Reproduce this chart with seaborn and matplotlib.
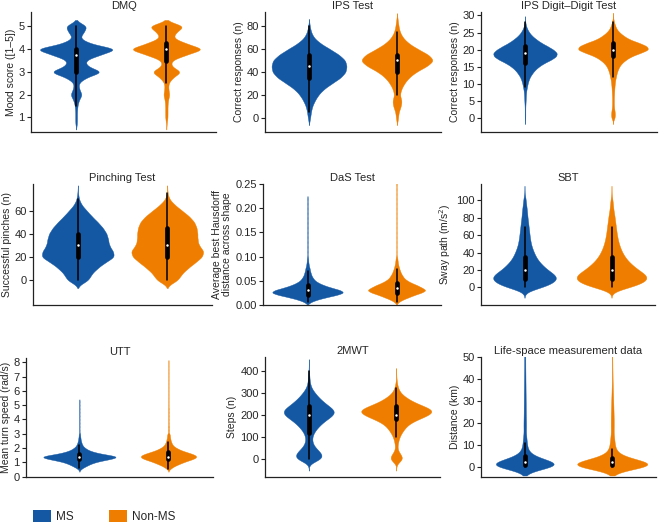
import numpy as np
import pandas as pd
import seaborn as sns
import matplotlib.pyplot as plt
from matplotlib.patches import Patch
from matplotlib.collections import PolyCollection

GROUPS = ['MS', 'Non-MS']
COLORS = {'MS': '#1457a3', 'Non-MS': '#ee7d00'}

DMQ_VALUES = [0.75, 1.0, 1.25, 1.5, 1.75, 2.0, 2.25, 2.5, 2.75, 3.0, 3.25, 3.5, 3.75, 4.0, 4.25, 4.5, 4.75, 5.0]
DMQ_MS = [2, 2, 2, 3, 6, 14, 7, 5, 22, 64, 25, 20, 55, 100, 30, 8, 18, 26]
DMQ_NONMS = [1, 3, 3, 3, 4, 8, 5, 5, 16, 40, 12, 12, 50, 100, 50, 16, 25, 48]

IPS_VALUES = [0, 5, 10, 15, 20, 25, 30, 35, 40, 45, 50, 55, 60, 65, 70, 75, 80, 85]
IPS_MS = [3, 5, 8, 15, 24, 38, 60, 84, 98, 100, 97, 80, 55, 29, 12, 5, 2, 0]
IPS_NONMS = [3, 4, 10, 13, 7, 11, 19, 31, 50, 80, 100, 85, 55, 30, 15, 7, 4, 2]

DIGIT_VALUES = [0, 1, 2, 3, 4, 5, 6, 7, 8, 9, 10, 11, 12, 13, 14, 15, 16, 17, 18, 19,
                20, 21, 22, 23, 24, 25, 26, 27, 28, 29]
DIGIT_MS = [2, 2, 2, 2, 3, 4, 5, 6, 8, 12, 16, 22, 30, 44, 60, 84, 116, 160, 194, 200,
            176, 140, 100, 70, 44, 26, 14, 6, 2, 0]
DIGIT_NONMS = [9, 11, 9, 6, 5, 5, 5, 6, 7, 8, 10, 12, 16, 20, 26, 34, 48, 70, 100, 150,
               200, 190, 144, 90, 60, 36, 20, 12, 6, 2]

PINCH_VALUES = [0, 5, 10, 15, 20, 25, 30, 35, 40, 45, 50, 55, 60, 65, 70, 75]
PINCH_MS = [30, 36, 52, 72, 100, 95, 84, 82, 78, 68, 54, 38, 24, 10, 3, 1]
PINCH_NONMS = [30, 38, 55, 75, 95, 100, 85, 82, 82, 80, 74, 60, 40, 20, 5, 1]

DAS_VALUES = [0.005, 0.01, 0.015, 0.02, 0.025, 0.03, 0.035, 0.04, 0.045, 0.05,
              0.055, 0.06, 0.065, 0.07, 0.075, 0.08, 0.085, 0.09, 0.095, 0.1,
              0.11, 0.12, 0.13, 0.14, 0.15, 0.16, 0.17, 0.18, 0.19, 0.2,
              0.21, 0.22, 0.23, 0.24, 0.25]
DAS_MS = [8, 25, 50, 80, 100, 90, 65, 45, 30, 20, 15, 11, 9, 7, 6, 4, 3, 2, 2, 1,
          1, 1, 1, 1, 1, 1, 1, 1, 1, 1, 1, 1, 0, 0, 0]
DAS_NONMS = [6, 20, 40, 60, 85, 100, 85, 70, 50, 35, 25, 20, 15, 12, 9, 7, 5, 4, 3, 2,
             1, 1, 1, 1, 1, 1, 1, 1, 1, 1, 1, 1, 1, 1, 1]

SBT_VALUES = [0, 5, 10, 15, 20, 25, 30, 35, 40, 45, 50, 55, 60, 65, 70, 75, 80, 85, 90, 95, 100, 105]
SBT_MS = [55, 85, 100, 90, 68, 55, 42, 34, 28, 23, 19, 17, 15, 14, 12, 11, 9, 8, 7, 5, 4, 2]
SBT_NONMS = [50, 85, 100, 92, 72, 58, 45, 36, 29, 24, 20, 17, 15, 13, 12, 10, 9, 7, 5, 4, 3, 1]

UTT_VALUES = [0.5, 0.6, 0.7, 0.8, 0.9, 1.0, 1.1, 1.2, 1.3, 1.4, 1.5, 1.6, 1.7, 1.8, 1.9,
              2.0, 2.1, 2.2, 2.3, 2.4, 2.5, 2.6, 2.7, 2.8, 2.9, 3.0,
              3.25, 3.5, 3.75, 4.0, 4.25, 4.5, 4.75, 5.0, 5.25, 5.5,
              5.75, 6.0, 6.25, 6.5, 6.75, 7.0, 7.25, 7.5, 7.75, 8.0]
UTT_MS = [3, 8, 15, 22, 30, 40, 55, 75, 92, 100, 80, 56, 40, 28, 20, 15, 10, 8, 6, 5,
          4, 3, 3, 2, 2, 2, 1, 1, 1, 1, 1, 1, 1, 1, 1, 0,
          0, 0, 0, 0, 0, 0, 0, 0, 0, 0]
UTT_NONMS = [4, 10, 18, 28, 40, 52, 66, 82, 95, 100, 95, 82, 66, 50, 38, 28, 20, 15, 12, 10,
             8, 7, 6, 5, 5, 4, 3, 3, 2, 2, 2, 2, 2, 1, 1, 1,
             1, 1, 1, 1, 1, 1, 1, 1, 1, 1]

MWT_VALUES = [0, 20, 40, 60, 80, 100, 120, 140, 160, 180, 200, 220, 240, 260, 280, 300,
              320, 340, 360, 380, 400, 420, 440]
MWT_MS = [48, 50, 34, 18, 12, 12, 18, 30, 45, 65, 90, 95, 72, 52, 35, 22, 10, 5, 3, 2, 1, 0, 0]
MWT_NONMS = [20, 12, 3, 3, 5, 8, 14, 22, 32, 55, 85, 100, 70, 42, 24, 10, 5, 2, 1, 0, 0, 0, 0]

LIFE_VALUES = [0, 1, 2, 3, 4, 5, 6, 7, 8, 9, 10, 11, 12, 13, 14, 15,
               17.5, 20, 22.5, 25, 27.5, 30, 32.5, 35, 37.5, 40, 42.5, 45, 47.5, 50, 52.5, 55]
LIFE_MS = [190, 170, 120, 70, 42, 26, 17, 12, 10, 9, 8, 7, 7, 6, 6, 5,
           12, 11, 10, 9, 9, 8, 8, 7, 7, 6, 6, 5, 5, 5, 4, 4]
LIFE_NONMS = [160, 150, 100, 55, 32, 20, 13, 10, 8, 7, 6, 6, 5, 5, 5, 4,
              10, 9, 9, 8, 7, 6, 5, 4, 3, 2, 2, 1, 1, 0, 0, 0]

TITLES = ['DMQ', 'IPS Test', 'IPS Digit\u2013Digit Test',
          'Pinching Test', 'DaS Test', 'SBT',
          'UTT', '2MWT', 'Life-space measurement data']
YLABELS = ['Mood score ([1\u20135])', 'Correct responses (n)', 'Correct responses (n)',
           'Successful pinches (n)', 'Average best Hausdorff\ndistance across shape', 'Sway path (m/s$^2$)',
           'Mean turn speed (rad/s)', 'Steps (n)', 'Distance (km)']
DATA = [
    (DMQ_VALUES, DMQ_MS, DMQ_NONMS),
    (IPS_VALUES, IPS_MS, IPS_NONMS),
    (DIGIT_VALUES, DIGIT_MS, DIGIT_NONMS),
    (PINCH_VALUES, PINCH_MS, PINCH_NONMS),
    (DAS_VALUES, DAS_MS, DAS_NONMS),
    (SBT_VALUES, SBT_MS, SBT_NONMS),
    (UTT_VALUES, UTT_MS, UTT_NONMS),
    (MWT_VALUES, MWT_MS, MWT_NONMS),
    (LIFE_VALUES, LIFE_MS, LIFE_NONMS),
]
YTICKS = [[1, 2, 3, 4, 5], [0, 20, 40, 60, 80], [0, 5, 10, 15, 20, 25, 30],
          [0, 20, 40, 60], [0, 0.05, 0.1, 0.15, 0.2, 0.25], [0, 20, 40, 60, 80, 100],
          [0, 1, 2, 3, 4, 5, 6, 7, 8], [0, 100, 200, 300, 400], [0, 10, 20, 30, 40, 50]]

# layout / style
AXES_PX = [(31, 12, 216, 132), (265, 12, 441, 132), (481, 12, 657, 132),
           (33, 184, 212, 305), (263, 184, 441, 305), (481, 184, 655, 305),
           (26, 358, 213, 477), (265, 357, 440, 477), (481, 357, 656, 477)]
YLIMS = [(0.36, 5.63), (-12, 92), (-4.1, 31), (-21.6, 83), (-0.001, 0.251),
         (-20.4, 119), (-0.03, 8.3), (-81, 462), (-4.7, 50.1)]
XLIMS = [(-0.5, 1.55), (-0.5, 1.5), (-0.5, 1.5), (-0.5, 1.5), (-0.5, 1.5),
         (-0.5, 1.5), (-0.6, 1.5), (-0.5, 1.5), (-0.5, 1.5)]
WIDTHS = [(0.8, 0.74), (0.85, 0.8), (0.72, 0.79), (0.8, 0.8), (0.79, 0.64),
          (0.72, 0.8), (0.81, 0.62), (0.57, 0.8), (0.66, 0.8)]
BANDWIDTHS = [0.14, 3.0, 0.6, 3.0, 0.003, 4.0, 0.08, 15.0, 2.0]
CUTS = [2, 2, 3, 2.3, 2, 3, 2, 3.5, 2]

W, H = 660, 523
sns.set_style('ticks')
plt.rcParams['font.family'] = ['Liberation Sans', 'DejaVu Sans']
fig = plt.figure(figsize=(W / 100, H / 100), dpi=100)

for i in range(9):
    l, t, r, b = AXES_PX[i]
    ax = fig.add_axes([l / W, 1 - b / H, (r - l) / W, (b - t) / H])
    values, ms_counts, nonms_counts = DATA[i]
    for grp, counts, width in zip(GROUPS, (ms_counts, nonms_counts), WIDTHS[i]):
        vals = np.repeat(values, counts)
        df = pd.DataFrame({'group': grp, 'value': vals})
        sns.violinplot(data=df, x='group', y='value', order=GROUPS, color=COLORS[grp],
                       saturation=1, width=width, density_norm='width', cut=CUTS[i],
                       bw_method=BANDWIDTHS[i] / np.std(vals, ddof=1), gridsize=400,
                       inner='box', inner_kws=dict(box_width=3.4, whis_width=1.1, marker='o'),
                       linecolor='black', linewidth=0.5, ax=ax)
    for c in ax.collections:
        if isinstance(c, PolyCollection):
            c.set_edgecolor(c.get_facecolor())
            c.set_linewidth(0.3)
    for ln in ax.lines:
        if ln.get_marker() == 'o':
            ln.set_markersize(1.8)
            ln.set_markeredgewidth(0)
    ax.set_xlim(*XLIMS[i])
    ax.set_ylim(*YLIMS[i])
    ax.set_xticks([])
    ax.set_xlabel('')
    ax.set_yticks(YTICKS[i])
    if i == 4:
        ax.set_yticklabels(['%.2f' % v for v in YTICKS[i]])
    ax.set_ylabel(YLABELS[i], fontsize=7.5, labelpad=2, linespacing=1.0)
    ax.set_title(TITLES[i], fontsize=8, pad=2.5)
    ax.tick_params(axis='y', length=3, width=0.8, labelsize=8, pad=1.5, color='#222222')
    sns.despine(ax=ax)
    for s in ('left', 'bottom'):
        ax.spines[s].set_linewidth(0.9)
        ax.spines[s].set_color('#222222')

handles = [Patch(facecolor=COLORS[g], edgecolor='none', label=g) for g in GROUPS]
fig.legend(handles=handles, loc='lower left', bbox_to_anchor=(33 / W, 0.0), ncol=2,
           frameon=False, fontsize=8.5, handlelength=1.55, handleheight=1.1,
           columnspacing=3.0, handletextpad=0.4, borderaxespad=0, borderpad=0)

fig.savefig('out.png', dpi=100)
